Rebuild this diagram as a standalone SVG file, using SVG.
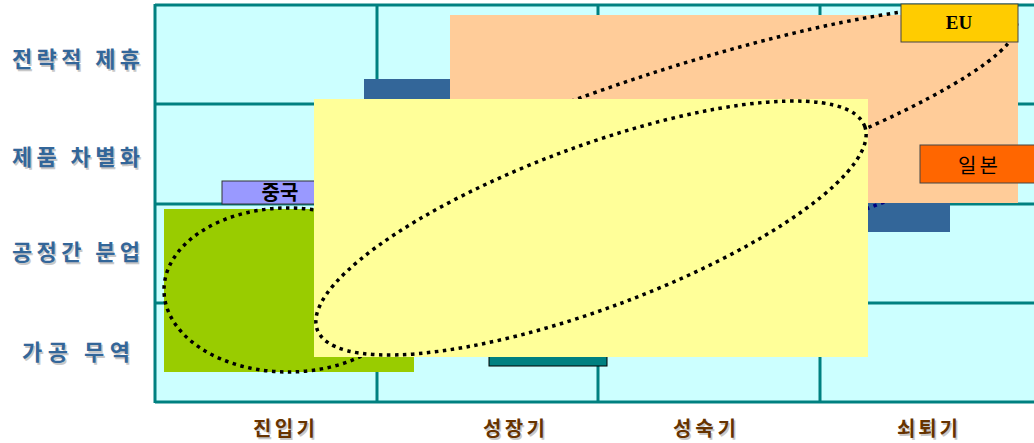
<svg xmlns="http://www.w3.org/2000/svg" width="1034" height="443" viewBox="0 0 1034 443">
<style>
.grid{stroke:#008080;stroke-width:3;fill:none}
.dot{fill:none;stroke:#000;stroke-width:3.5;stroke-dasharray:3.5 4.5}
.rowlab{font-family:"Noto Sans CJK KR",sans-serif;font-weight:bold;font-size:22px;fill:#336699}
.collab{font-family:"Noto Sans CJK KR",sans-serif;font-weight:bold;font-size:20px;fill:#663300}
.shadow{fill:#C8C8C8}
.box{font-family:"Noto Sans CJK KR",sans-serif;font-size:20px;fill:#000;text-anchor:middle}
</style>
<rect width="1034" height="443" fill="#FFFFFF"/>
<g id="grid">
<rect x="155" y="5" width="890" height="397" fill="#CCFFFF"/>
<path class="grid" d="M155,5 H1040 M155,104 H1040 M155,204 H1040 M155,303 H1040 M155,402 H1040 M155,4 V403 M377,5 V402 M598,5 V402 M820,5 V402"/>
</g>
<g id="row-labels">
<text class="rowlab shadow" x="13.5" y="68.5" textLength="128">전략적 제휴</text>
<text class="rowlab" x="12" y="67" textLength="128">전략적 제휴</text>
<text class="rowlab shadow" x="13.5" y="166.5" textLength="128">제품 차별화</text>
<text class="rowlab" x="12" y="165" textLength="128">제품 차별화</text>
<text class="rowlab shadow" x="13.5" y="261.5" textLength="128">공정간 분업</text>
<text class="rowlab" x="12" y="260" textLength="128">공정간 분업</text>
<text class="rowlab shadow" x="23.5" y="361.5" textLength="108">가공  무역</text>
<text class="rowlab" x="22" y="360" textLength="108">가공  무역</text>
</g>
<g id="col-labels">
<text class="collab shadow" x="254.5" y="437.5" textLength="62">진입기</text>
<text class="collab" x="253" y="436" textLength="62">진입기</text>
<text class="collab shadow" x="484.5" y="437.5" textLength="62">성장기</text>
<text class="collab" x="483" y="436" textLength="62">성장기</text>
<text class="collab shadow" x="674.5" y="437.5" textLength="63">성숙기</text>
<text class="collab" x="673" y="436" textLength="63">성숙기</text>
<text class="collab shadow" x="898.5" y="437.5" textLength="61">쇠퇴기</text>
<text class="collab" x="897" y="436" textLength="61">쇠퇴기</text>
</g>
<g id="blue-bars">
<rect x="364" y="79" width="110" height="30" fill="#336699"/>
<rect x="840" y="195" width="110" height="37" fill="#336699"/>
</g>
<g id="connectors">
<path d="M866,209 L892,199" fill="none" stroke="#000080" stroke-width="3.5" stroke-dasharray="3.5 4.5"/>
</g>
<g id="china">
<rect x="222" y="181" width="116" height="23" fill="#9999FF" stroke="#333" stroke-width="1"/>
<text x="280" y="200" font-family="Noto Sans CJK KR,sans-serif" font-weight="bold" font-size="20" text-anchor="middle">중국</text>
</g>
<g id="processing-trade">
<rect x="164" y="209" width="250" height="163" fill="#99CC00"/>
<ellipse class="dot" cx="288" cy="290" rx="124" ry="82"/>
</g>
<g id="strategic-area">
<rect x="450" y="15" width="568" height="188" fill="#FFCC99"/>
<ellipse class="dot" cx="669" cy="135" rx="365" ry="64" transform="rotate(-18 669 135)"/>
</g>
<g id="growth-bar">
<rect x="489" y="330" width="118" height="36" fill="#008080" stroke="#000" stroke-width="1"/>
</g>
<g id="differentiation-area">
<rect x="314" y="99" width="554" height="258" fill="#FFFF99"/>
<ellipse class="dot" cx="591" cy="228" rx="292" ry="81" transform="rotate(-20.4 591 228)"/>
</g>
<g id="eu">
<rect x="901" y="4" width="117" height="38" fill="#FFCC00" stroke="#444" stroke-width="1"/>
<text x="959" y="29" font-family="Liberation Serif,serif" font-weight="bold" font-size="19" text-anchor="middle">EU</text>
</g>
<g id="japan">
<rect x="920" y="145" width="120" height="38" fill="#FF6600" stroke="#444" stroke-width="1"/>
<text class="box" x="978" y="173" textLength="40">일본</text>
</g>
</svg>
